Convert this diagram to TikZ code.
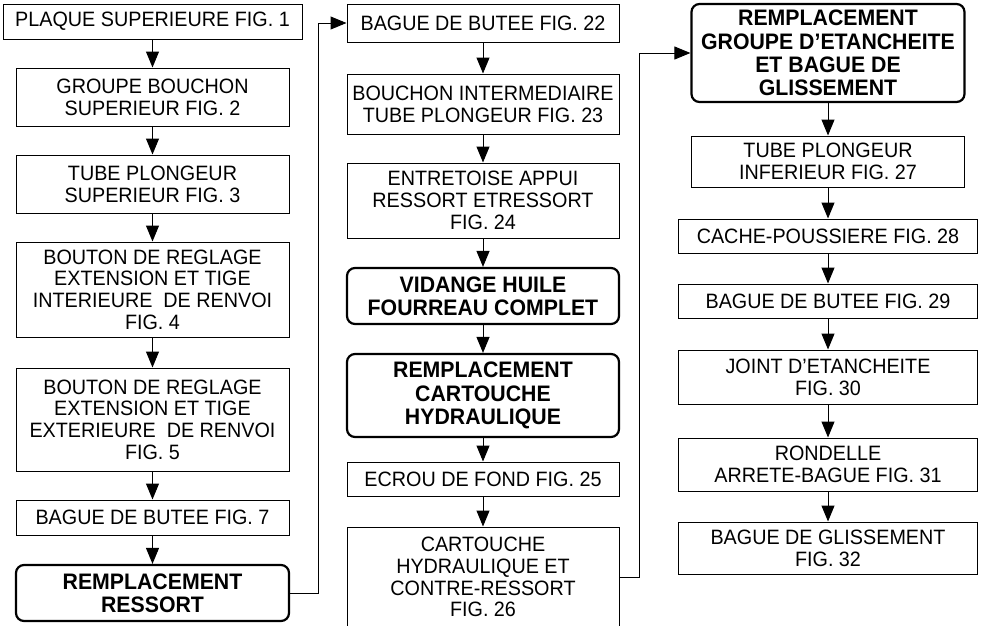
\documentclass[tikz,border=0pt]{standalone}
\usepackage{fontspec}
\setmainfont{Liberation Sans}[FakeStretch=0.95]
\usetikzlibrary{arrows.meta}
\tikzset{
  box/.style={draw=black, line width=1pt, align=center, inner sep=0pt, minimum width=273pt, font=\fontsize{20.8}{21.7}\selectfont},
  widebox/.style={box, minimum width=299pt},
  stagebox/.style={draw=black, line width=2.2pt, rounded corners=8pt, align=center, inner sep=0pt, minimum width=273pt, font=\bfseries\fontsize{22.4}{23.3}\selectfont},
  arrow/.style={-{Triangle[length=16pt,width=13pt]}, line width=1pt}
}
\begin{document}
\begin{tikzpicture}[x=1pt, y=-1pt]
\useasboundingbox (0,0) rectangle (981,625);
% column 1
\node[widebox, minimum height=35pt] (plaque) at (152.5,21.5) {PLAQUE SUPERIEURE FIG. 1};
\node[box, minimum height=58pt] (bouchon) at (152.5,97) {GROUPE BOUCHON\\SUPERIEUR FIG. 2};
\node[box, minimum height=58pt] (tubesup) at (152.5,184) {TUBE PLONGEUR\\SUPERIEUR FIG. 3};
\node[box, minimum height=95pt] (bouton4) at (152.5,289.5) {BOUTON DE REGLAGE\\EXTENSION ET TIGE\\INTERIEURE\ \ DE RENVOI\\FIG. 4};
\node[box, minimum height=103pt] (bouton5) at (152.5,419.5) {BOUTON DE REGLAGE\\EXTENSION ET TIGE\\EXTERIEURE\ \ DE RENVOI\\FIG. 5};
\node[box, minimum height=35pt] (butee7) at (152.5,517.5) {BAGUE DE BUTEE FIG. 7};
\node[stagebox, minimum height=56pt] (ressort) at (152.5,593) {REMPLACEMENT\\RESSORT};
% column 2
\node[box, minimum width=272pt, minimum height=38pt] (butee22) at (483,23) {BAGUE DE BUTEE FIG. 22};
\node[box, minimum width=272pt, minimum height=60pt] (intermed) at (483,104) {BOUCHON INTERMEDIAIRE\\TUBE PLONGEUR FIG. 23};
\node[box, minimum width=272pt, minimum height=75pt] (entretoise) at (483,200.5) {ENTRETOISE APPUI\\RESSORT ETRESSORT\\FIG. 24};
\node[stagebox, minimum width=272pt, minimum height=56pt] (vidange) at (483,296) {VIDANGE HUILE\\FOURREAU COMPLET};
\node[stagebox, minimum width=272pt, minimum height=83pt] (cartouche) at (483,395.5) {REMPLACEMENT\\CARTOUCHE\\HYDRAULIQUE};
\node[box, minimum width=272pt, minimum height=34pt] (ecrou) at (483,479) {ECROU DE FOND FIG. 25};
\node[box, minimum width=272pt, minimum height=100pt] (cartfig) at (483,577) {CARTOUCHE\\HYDRAULIQUE ET\\CONTRE-RESSORT\\FIG. 26};
% column 3
\node[stagebox, minimum height=98pt] (etanch) at (828,53) {REMPLACEMENT\\GROUPE D’ETANCHEITE\\ET BAGUE DE\\GLISSEMENT};
\node[box, minimum height=51pt] (tubeinf) at (828,161.5) {TUBE PLONGEUR\\INFERIEUR FIG. 27};
\node[widebox, minimum height=34pt] (cache) at (828,236) {CACHE-POUSSIERE FIG. 28};
\node[widebox, minimum height=34pt] (butee29) at (828,301) {BAGUE DE BUTEE FIG. 29};
\node[widebox, minimum height=54pt] (joint) at (828,377) {JOINT D’ETANCHEITE\\FIG. 30};
\node[widebox, minimum height=53pt] (rondelle) at (828,464.5) {RONDELLE\\ARRETE-BAGUE FIG. 31};
\node[widebox, minimum height=52pt] (glisse) at (828,548) {BAGUE DE GLISSEMENT\\FIG. 32};
% arrows
\draw[arrow] (plaque.south) -- (bouchon.north);
\draw[arrow] (bouchon.south) -- (tubesup.north);
\draw[arrow] (tubesup.south) -- (bouton4.north);
\draw[arrow] (bouton4.south) -- (bouton5.north);
\draw[arrow] (bouton5.south) -- (butee7.north);
\draw[arrow] (butee7.south) -- (ressort.north);
\draw[arrow] (ressort.east) -- ++(28,0) |- (butee22.west);
\draw[arrow] (butee22.south) -- (intermed.north);
\draw[arrow] (intermed.south) -- (entretoise.north);
\draw[arrow] (entretoise.south) -- (vidange.north);
\draw[arrow] (vidange.south) -- (cartouche.north);
\draw[arrow] (cartouche.south) -- (ecrou.north);
\draw[arrow] (ecrou.south) -- (cartfig.north);
\draw[arrow] (cartfig.east) -- ++(20,0) |- (etanch.west);
\draw[arrow] (etanch.south) -- (tubeinf.north);
\draw[arrow] (tubeinf.south) -- (cache.north);
\draw[arrow] (cache.south) -- (butee29.north);
\draw[arrow] (butee29.south) -- (joint.north);
\draw[arrow] (joint.south) -- (rondelle.north);
\draw[arrow] (rondelle.south) -- (glisse.north);
\end{tikzpicture}
\end{document}
